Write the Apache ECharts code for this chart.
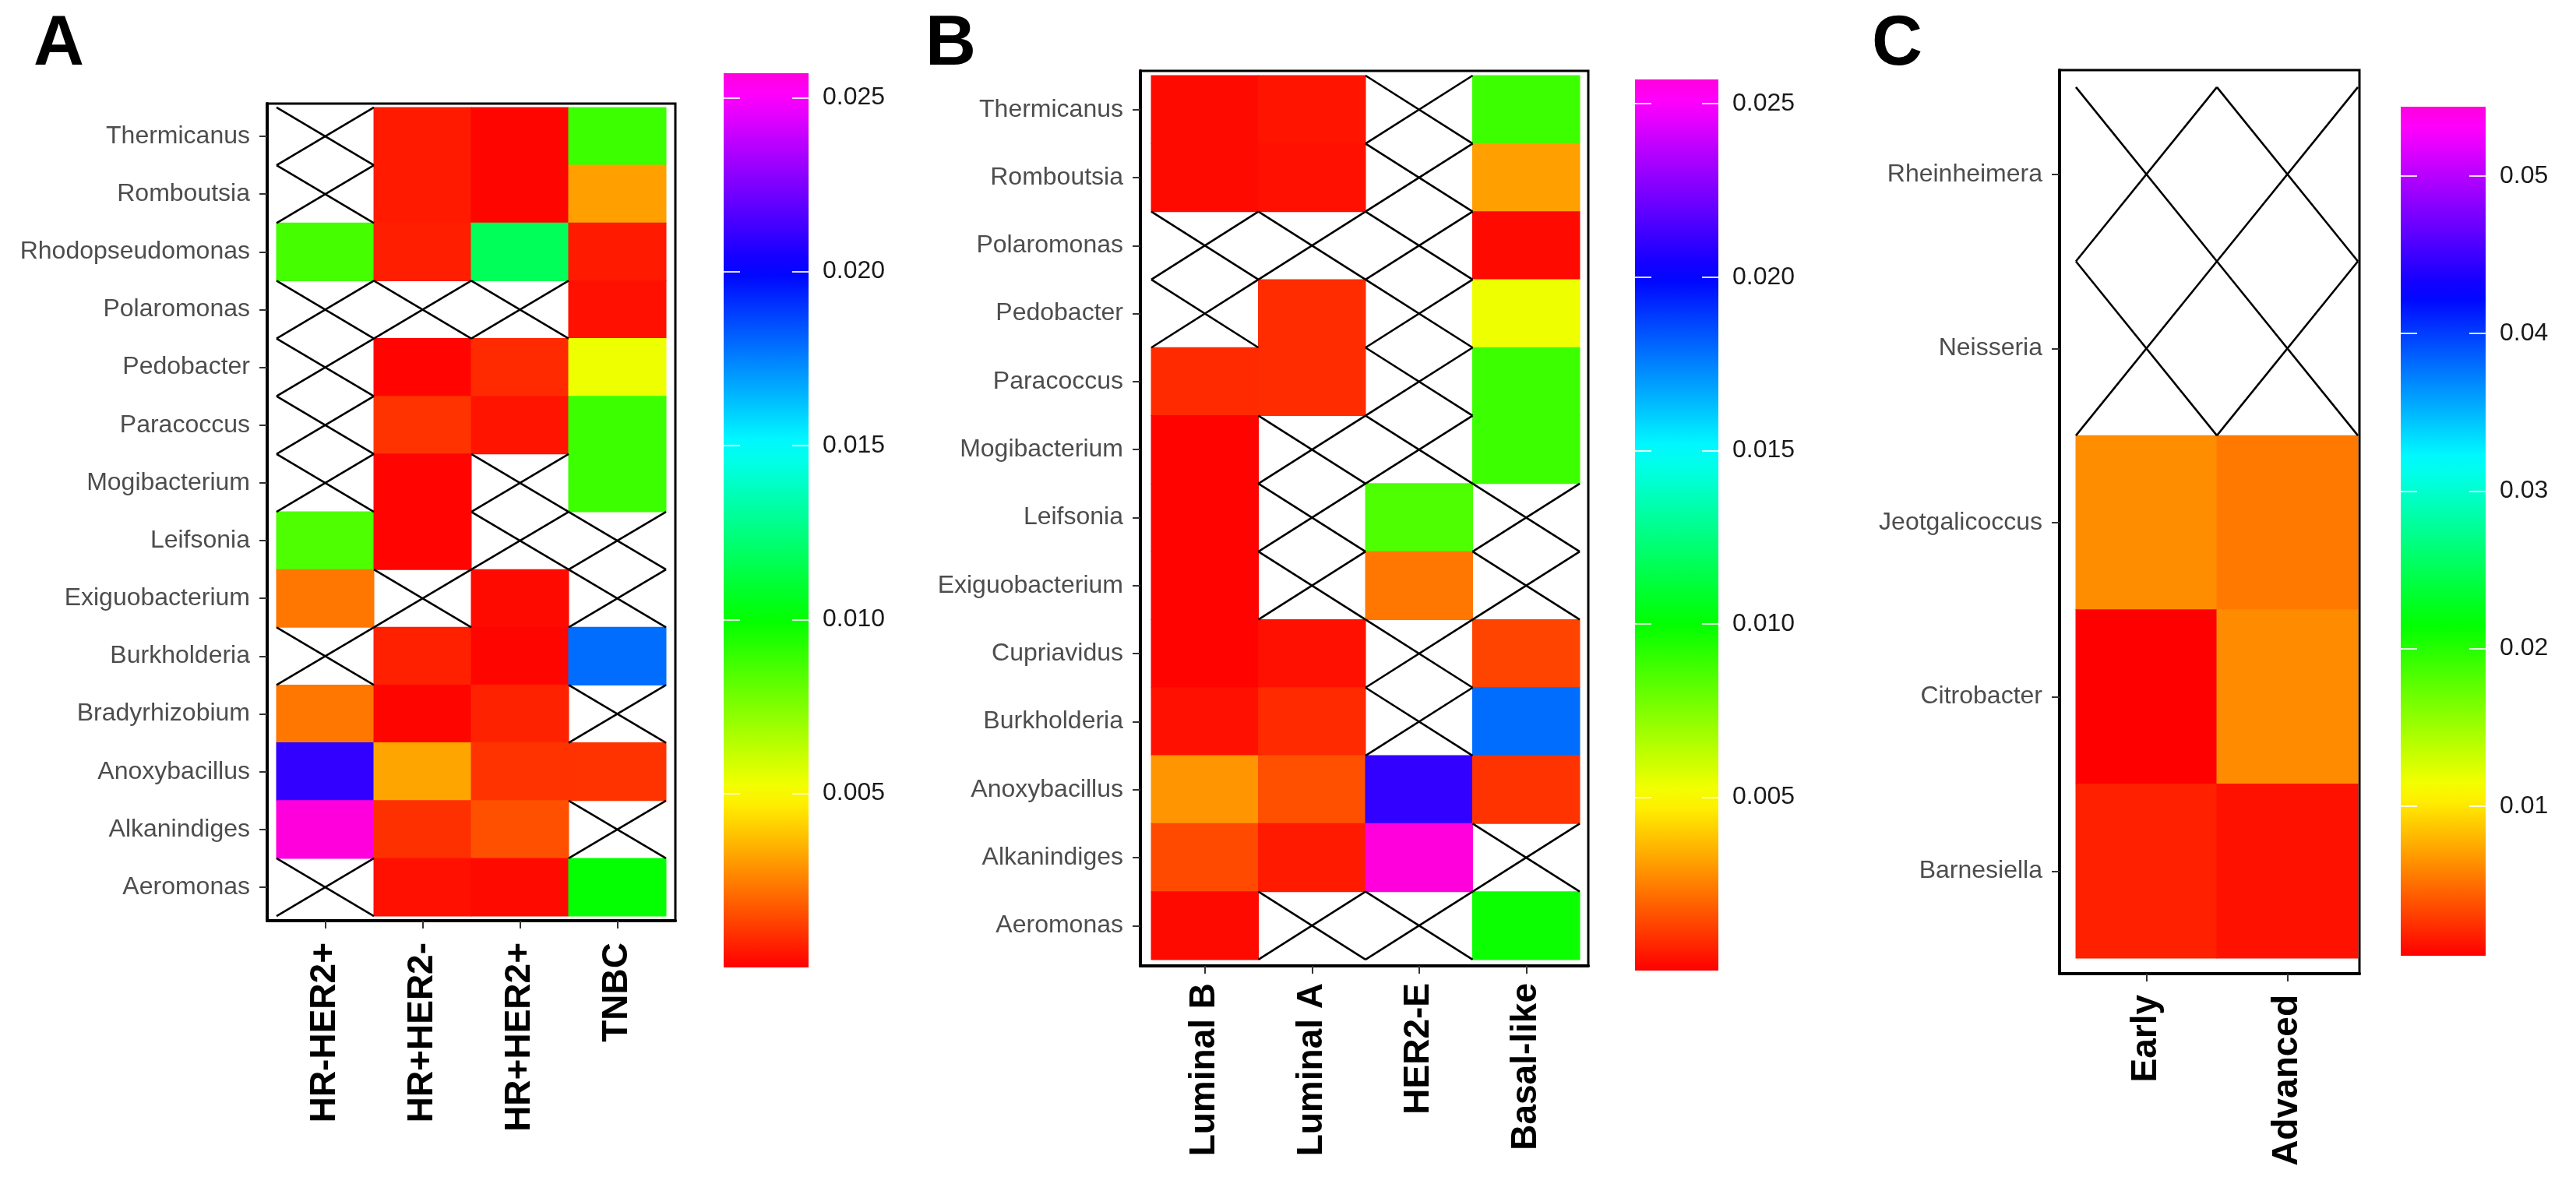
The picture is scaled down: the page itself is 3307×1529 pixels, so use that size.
<!DOCTYPE html>
<html><head><meta charset="utf-8">
<script src="https://cdn.jsdelivr.net/npm/echarts@6/dist/echarts.min.js"></script>
<style>html,body{margin:0;padding:0;background:#fff}#c{width:3307px;height:1529px}</style>
</head><body><div id="c"></div>
<script>
// ---------- Panel A data ----------
const colsA = ['HR-HER2+', 'HR+HER2-', 'HR+HER2+', 'TNBC'];
const rowsA = ['Thermicanus', 'Romboutsia', 'Rhodopseudomonas', 'Polaromonas', 'Pedobacter', 'Paracoccus',
  'Mogibacterium', 'Leifsonia', 'Exiguobacterium', 'Burkholderia', 'Bradyrhizobium', 'Anoxybacillus',
  'Alkanindiges', 'Aeromonas'];
const valuesA = [
  [null, 0.00051, 0.0001, 0.00883],
  [null, 0.00051, 0.0001, 0.00314],
  [0.00867, 0.00059, 0.01176, 0.00051],
  [null, null, null, 0.00031],
  [null, 0.00008, 0.00082, 0.00533],
  [null, 0.0010, 0.00039, 0.00883],
  [null, 0.00008, null, 0.00883],
  [0.0085, 0.00008, null, null],
  [0.00233, null, 0.0002, null],
  [null, 0.00063, 0.0001, 0.0179],
  [0.00233, 0.0001, 0.00067, null],
  [0.0210, 0.00324, 0.0010, 0.0010],
  [0.0257, 0.00094, 0.00157, null],
  [null, 0.00031, 0.0002, 0.0100]
];
const ticksA = [0.005, 0.010, 0.015, 0.020, 0.025];
const tickLabelsA = ['0.005', '0.010', '0.015', '0.020', '0.025'];

// ---------- Panel B data ----------
const colsB = ['Luminal B', 'Luminal A', 'HER2-E', 'Basal-like'];
const rowsB = ['Thermicanus', 'Romboutsia', 'Polaromonas', 'Pedobacter', 'Paracoccus', 'Mogibacterium',
  'Leifsonia', 'Exiguobacterium', 'Cupriavidus', 'Burkholderia', 'Anoxybacillus', 'Alkanindiges', 'Aeromonas'];
const valuesB = [
  [0.0002, 0.00039, null, 0.00883],
  [0.0002, 0.00031, null, 0.00314],
  [null, null, null, 0.0002],
  [null, 0.00086, null, 0.00533],
  [0.00082, 0.00086, null, 0.00883],
  [0.00005, null, null, 0.00883],
  [0.00005, null, 0.0085, null],
  [0.00005, null, 0.00233, null],
  [0.00005, 0.00031, null, 0.00133],
  [0.00031, 0.00082, null, 0.0179],
  [0.00292, 0.00157, 0.0210, 0.0010],
  [0.00145, 0.00051, 0.0257, null],
  [0.0002, null, null, 0.0098]
];
const ticksB = [0.005, 0.010, 0.015, 0.020, 0.025];
const tickLabelsB = ['0.005', '0.010', '0.015', '0.020', '0.025'];

// ---------- Panel C data ----------
const colsC = ['Early', 'Advanced'];
const rowsC = ['Rheinheimera', 'Neisseria', 'Jeotgalicoccus', 'Citrobacter', 'Barnesiella'];
const valuesC = [
  [null, null],
  [null, null],
  [0.0063, 0.0055],
  [0.0005, 0.0062],
  [0.0018, 0.0012]
];
const ticksC = [0.01, 0.02, 0.03, 0.04, 0.05];
const tickLabelsC = ['0.01', '0.02', '0.03', '0.04', '0.05'];

// ---------- colour scale (rainbow, red -> magenta) ----------
function hsvHex(h) {
  const f = n => { const k = (n + h / 60) % 6; return 1 - Math.max(0, Math.min(k, 4 - k, 1)); };
  const to = x => Math.round(x * 255).toString(16).padStart(2, '0');
  return '#' + to(f(5)) + to(f(3)) + to(f(1));
}
const HUE_MAX = 308, NSTOP = 44;
const palette = [];
for (let i = 0; i <= NSTOP; i++) palette.push(hsvHex(i * HUE_MAX / NSTOP));

const FONT = "'Liberation Sans', Arial, Helvetica, sans-serif";

const panels = [
  { letter: 'A', letterLeft: 38, cols: colsA, rows: rowsA, values: valuesA, ticks: ticksA, tickLabels: tickLabelsA,
    min: 0, max: 0.0257,
    grid: { left: 343, top: 133, width: 524, height: 1049 }, pad: [0.096, 0.096, 0.067, 0.08],
    bar: { left: 929, top: 94, width: 109, height: 1148 }, xMargin: 28 },
  { letter: 'B', letterLeft: 1183, cols: colsB, rows: rowsB, values: valuesB, ticks: ticksB, tickLabels: tickLabelsB,
    min: 0, max: 0.0257,
    grid: { left: 1464, top: 91, width: 575, height: 1149 }, pad: [0.102, 0.08, 0.069, 0.092],
    bar: { left: 2099, top: 102, width: 107, height: 1144 }, xMargin: 22 },
  { letter: 'C', letterLeft: 2398, cols: colsC, rows: rowsC, values: valuesC, ticks: ticksC, tickLabels: tickLabelsC,
    min: 0.0005, max: 0.0544,
    grid: { left: 2644, top: 90, width: 385, height: 1160 }, pad: [0.116, 0.011, 0.098, 0.089],
    bar: { left: 3082, top: 137, width: 109, height: 1090 }, xMargin: 27 }
];

function renderCell(params, api) {
  const c = api.coord([api.value(0), api.value(1)]);
  const s = api.size([1, 1]);
  return { type: 'rect', shape: { x: c[0] - s[0] / 2 - 0.5, y: c[1] - s[1] / 2 - 0.5, width: s[0] + 1, height: s[1] + 1 },
    style: { fill: api.visual('color') } };
}
function renderCross(params, api) {
  const c = api.coord([api.value(0), api.value(1)]);
  const s = api.size([1, 1]);
  const x0 = c[0] - s[0] / 2, x1 = c[0] + s[0] / 2, y0 = c[1] - s[1] / 2, y1 = c[1] + s[1] / 2;
  const st = { stroke: '#000', lineWidth: 2.6 };
  return { type: 'group', children: [
    { type: 'line', shape: { x1: x0, y1: y0, x2: x1, y2: y1 }, style: st },
    { type: 'line', shape: { x1: x0, y1: y1, x2: x1, y2: y0 }, style: st }
  ] };
}
function renderBar(params, api) {
  const cs = params.coordSys;
  const stops = palette.map((col, i) => ({ offset: i / (palette.length - 1), color: col }));
  return { type: 'rect', shape: { x: cs.x, y: cs.y, width: cs.width, height: cs.height },
    style: { fill: new echarts.graphic.LinearGradient(0, 1, 0, 0, stops) } };
}

const option = { animation: false, backgroundColor: '#fff', title: [], grid: [], xAxis: [], yAxis: [], series: [], visualMap: [] };

panels.forEach((p, k) => {
  const nC = p.cols.length, nR = p.rows.length;
  const cells = [], na = [];
  p.values.forEach((row, r) => row.forEach((v, c) => {
    if (v === null) na.push([c, r]); else cells.push([c, r, v]);
  }));
  const colIdx = p.cols.map((_, i) => i);
  const rowIdx = p.rows.map((_, i) => i);

  option.title.push({ text: p.letter, left: p.letterLeft, top: 8,
    textStyle: { fontSize: 90, fontWeight: 'bold', fontFamily: FONT, color: '#000' } });

  option.grid.push(Object.assign({ show: true, borderColor: '#000', borderWidth: 3, backgroundColor: '#fff' }, p.grid));
  option.grid.push(Object.assign({ show: false }, p.bar));

  // main x axis
  option.xAxis.push({ type: 'value', gridIndex: 2 * k, min: -0.5 - p.pad[0], max: nC - 0.5 + p.pad[1],
    position: 'bottom', splitLine: { show: false },
    axisLine: { show: true, onZero: false, lineStyle: { color: '#000', width: 4 } },
    axisTick: { show: true, customValues: colIdx, length: 10, lineStyle: { color: '#333', width: 2 } },
    axisLabel: { show: true, customValues: colIdx, rotate: 90, margin: p.xMargin, formatter: v => p.cols[Math.round(v)],
      fontSize: 46, fontWeight: 'bold', fontFamily: FONT, color: '#000' } });
  // colorbar x axis
  option.xAxis.push({ type: 'value', gridIndex: 2 * k + 1, min: 0, max: 1, show: false });

  // main y axis
  option.yAxis.push({ type: 'value', gridIndex: 2 * k, inverse: true, min: -0.5 - p.pad[2], max: nR - 0.5 + p.pad[3],
    splitLine: { show: false },
    axisLine: { show: true, onZero: false, lineStyle: { color: '#000', width: 4 } },
    axisTick: { show: true, customValues: rowIdx, length: 10, lineStyle: { color: '#333', width: 2 } },
    axisLabel: { show: true, customValues: rowIdx, margin: 22, formatter: v => p.rows[Math.round(v)],
      fontSize: 32, fontFamily: FONT, color: '#4d4d4d' } });
  // colorbar right axis (labels + ticks)
  option.yAxis.push({ type: 'value', gridIndex: 2 * k + 1, min: p.min, max: p.max, position: 'right', z: 10,
    splitLine: { show: false }, axisLine: { show: false, onZero: false },
    axisTick: { show: true, inside: true, customValues: p.ticks, length: 21, lineStyle: { color: 'rgba(255,255,255,0.85)', width: 2 } },
    axisLabel: { show: true, customValues: p.ticks, margin: 18,
      formatter: v => p.tickLabels[p.ticks.findIndex(t => Math.abs(t - v) < 1e-9)],
      fontSize: 32, fontFamily: FONT, color: '#1a1a1a' } });
  // colorbar left axis (ticks only)
  option.yAxis.push({ type: 'value', gridIndex: 2 * k + 1, min: p.min, max: p.max, position: 'left', z: 10,
    splitLine: { show: false }, axisLine: { show: false, onZero: false },
    axisTick: { show: true, inside: true, customValues: p.ticks, length: 21, lineStyle: { color: 'rgba(255,255,255,0.85)', width: 2 } },
    axisLabel: { show: false } });

  option.series.push({ type: 'custom', name: 'cells' + p.letter, xAxisIndex: 2 * k, yAxisIndex: 3 * k,
    data: cells, renderItem: renderCell, encode: { x: 0, y: 1 }, silent: true, z: 2 });
  option.series.push({ type: 'custom', name: 'na' + p.letter, xAxisIndex: 2 * k, yAxisIndex: 3 * k,
    data: na, renderItem: renderCross, encode: { x: 0, y: 1 }, silent: true, z: 3 });
  option.series.push({ type: 'custom', name: 'bar' + p.letter, xAxisIndex: 2 * k + 1, yAxisIndex: 3 * k + 1,
    data: [[0.5, (p.min + p.max) / 2]], renderItem: renderBar, silent: true, z: 1 });

  option.visualMap.push({ type: 'continuous', show: false, seriesIndex: 3 * k, dimension: 2,
    min: p.min, max: p.max, inRange: { color: palette } });
});

const chart = echarts.init(document.getElementById('c'), null, { renderer: 'canvas' });
chart.setOption(option);
</script>
</body></html>
